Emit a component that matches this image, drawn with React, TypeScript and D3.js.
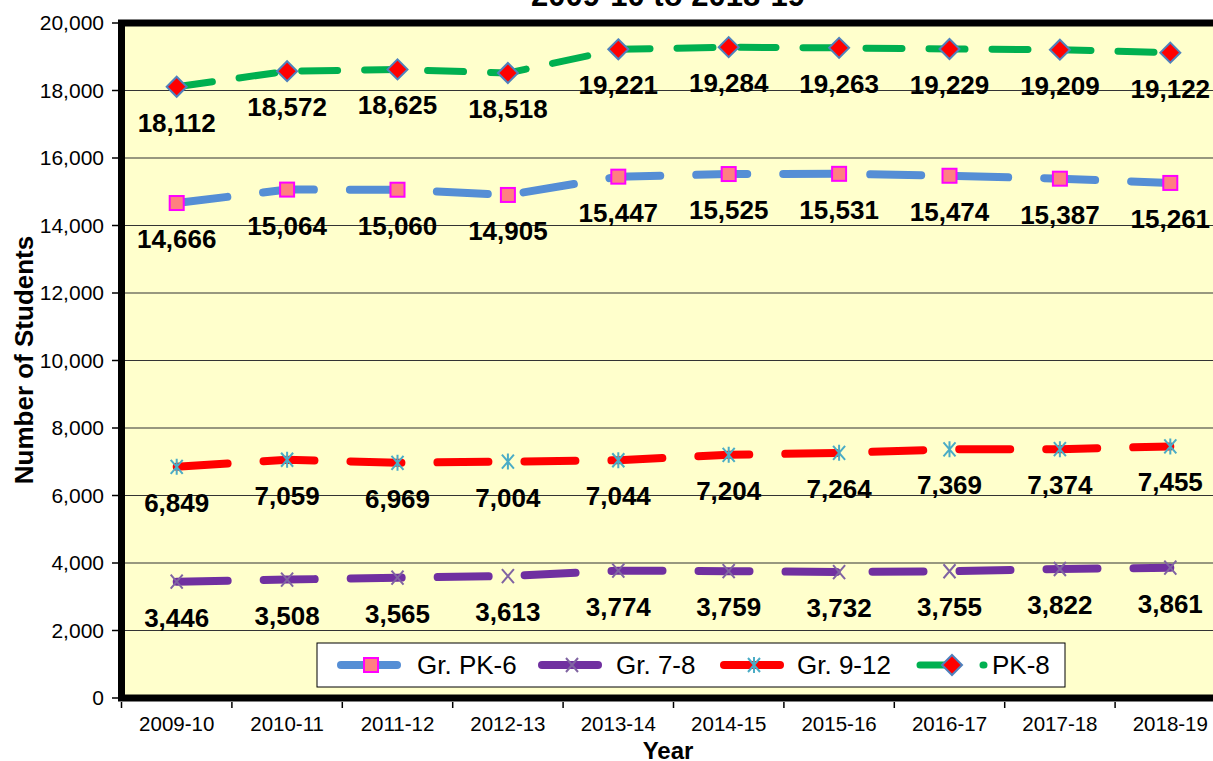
import * as React from "react";
import * as d3 from "d3";

const years = ["2009-10", "2010-11", "2011-12", "2012-13", "2013-14", "2014-15", "2015-16", "2016-17", "2017-18", "2018-19"];
const pk6 = [14666, 15064, 15060, 14905, 15447, 15525, 15531, 15474, 15387, 15261];
const gr78 = [3446, 3508, 3565, 3613, 3774, 3759, 3732, 3755, 3822, 3861];
const gr912 = [6849, 7059, 6969, 7004, 7044, 7204, 7264, 7369, 7374, 7455];
const pk8 = [18112, 18572, 18625, 18518, 19221, 19284, 19263, 19229, 19209, 19122];
const yTicks = [0, 2000, 4000, 6000, 8000, 10000, 12000, 14000, 16000, 18000, 20000];

type Marker = "square" | "x" | "star" | "diamond";

const series: { name: string; values: number[]; color: string; width: number; dash: string; marker: Marker }[] = [
  { name: "Gr. PK-6", values: pk6, color: "#558ED5", width: 8, dash: "51 36", marker: "square" },
  { name: "Gr. 7-8", values: gr78, color: "#7030A0", width: 8, dash: "51 36", marker: "x" },
  { name: "Gr. 9-12", values: gr912, color: "#FF0000", width: 8, dash: "51 36", marker: "star" },
  { name: "PK-8", values: pk8, color: "#00B050", width: 7, dash: "36 27", marker: "diamond" },
];

const FONT = "'Liberation Sans', Arial, sans-serif";
const W = 1213;
const H = 761;

function MarkerShape({ type, x, y }: { type: Marker; x: number; y: number }) {
  if (type === "square") {
    return <rect x={x - 7} y={y - 7} width={14} height={14} fill="#FF8080" stroke="#FF00FF" strokeWidth={2} />;
  }
  if (type === "x") {
    return (
      <path d={`M${x - 6},${y - 7}L${x + 6},${y + 7}M${x + 6},${y - 7}L${x - 6},${y + 7}`} stroke="#8064A2" strokeWidth={2} fill="none" />
    );
  }
  if (type === "star") {
    return (
      <path
        d={`M${x - 6},${y - 7}L${x + 6},${y + 7}M${x + 6},${y - 7}L${x - 6},${y + 7}M${x},${y - 8}L${x},${y + 8}`}
        stroke="#4BACC6"
        strokeWidth={2}
        fill="none"
      />
    );
  }
  return (
    <path d={`M${x},${y - 10}L${x + 10},${y}L${x},${y + 10}L${x - 10},${y}Z`} fill="#FF0000" stroke="#4F81BD" strokeWidth={2} />
  );
}

export default function App() {
  const x = d3.scaleBand<string>().domain(years).range([121.5, 1225.5]);
  const y = d3.scaleLinear().domain([0, 20000]).range([698, 23]);
  const cx = (yr: string) => (x(yr) ?? 0) + x.bandwidth() / 2;
  const fmt = d3.format(",");

  const line = d3
    .line<number>()
    .x((_, i) => cx(years[i]))
    .y((v) => y(v));

  const [x0, x1] = x.range();
  const legendItems = [
    { lx: 337, tx: 417 },
    { lx: 538, tx: 616 },
    { lx: 720, tx: 797 },
    { lx: 916, tx: 992 },
  ];
  const legendY = 665;

  return (
    <svg width={W} height={H} style={{ position: "absolute", left: 0, top: 0, fontFamily: FONT }}>
      <rect width={W} height={H} fill="#fff" />

      {/* title, mostly cut off at top */}
      <text x={668} y={6} textAnchor="middle" fontSize={31} fontWeight="bold">
        2009-10 to 2018-19
      </text>

      {/* plot area */}
      <rect x={x0} y={y(20000)} width={x1 - x0 + 10} height={y(0) - y(20000)} fill="#FFFFCC" />
      {yTicks.slice(1, -1).map((t) => (
        <line key={t} x1={x0} x2={W} y1={y(t)} y2={y(t)} stroke="#333" strokeWidth={1.2} />
      ))}
      <rect
        x={x0}
        y={y(20000)}
        width={x1 - x0 + 10}
        height={y(0) - y(20000)}
        fill="none"
        stroke="#000"
        strokeWidth={7}
      />

      {/* y axis */}
      {yTicks.map((t) => (
        <g key={t}>
          <line x1={112} x2={118} y1={y(t)} y2={y(t)} stroke="#000" strokeWidth={1.5} />
          <text x={104} y={y(t)} dy="0.35em" textAnchor="end" fontSize={21}>
            {fmt(t)}
          </text>
        </g>
      ))}
      <text
        transform={`translate(33,360) rotate(-90)`}
        textAnchor="middle"
        fontSize={26}
        fontWeight="bold"
      >
        Number of Students
      </text>

      {/* x axis */}
      {years.map((yr) => (
        <g key={yr}>
          <line x1={x(yr) ?? 0} x2={x(yr) ?? 0} y1={702} y2={708} stroke="#000" strokeWidth={1.5} />
          <text x={cx(yr)} y={731} textAnchor="middle" fontSize={20.5}>
            {yr}
          </text>
        </g>
      ))}
      <text x={668} y={759} textAnchor="middle" fontSize={24} fontWeight="bold">
        Year
      </text>

      {/* series lines */}
      {series.map((s) => (
        <path
          key={s.name}
          d={line(s.values) ?? ""}
          fill="none"
          stroke={s.color}
          strokeWidth={s.width}
          strokeDasharray={s.dash}
          strokeLinecap="round"
        />
      ))}
      {series.map((s) =>
        s.values.map((v, i) => <MarkerShape key={s.name + i} type={s.marker} x={cx(years[i])} y={y(v)} />),
      )}

      {/* data labels */}
      {series.map((s) =>
        s.values.map((v, i) => (
          <text
            key={s.name + "l" + i}
            x={cx(years[i])}
            y={y(v) + 45}
            textAnchor="middle"
            fontSize={26}
            fontWeight="bold"
          >
            {fmt(v)}
          </text>
        )),
      )}

      {/* legend */}
      <rect x={317} y={643} width={748} height={44} fill="#fff" stroke="#000" strokeWidth={1} />
      {series.map((s, i) => {
        const it = legendItems[i];
        const len = s.marker === "diamond" ? 68 : 60;
        return (
          <g key={s.name + "leg"}>
            <line
              x1={it.lx + 4}
              x2={it.lx + len}
              y1={legendY}
              y2={legendY}
              stroke={s.color}
              strokeWidth={s.width}
              strokeLinecap="round"
              strokeDasharray={s.marker === "diamond" ? s.dash : undefined}
            />
            <MarkerShape type={s.marker} x={s.marker === "diamond" ? it.lx + 36 : it.lx + 34} y={legendY} />
            <text x={it.tx} y={legendY} dy="0.36em" fontSize={26}>
              {s.name}
            </text>
          </g>
        );
      })}
    </svg>
  );
}
